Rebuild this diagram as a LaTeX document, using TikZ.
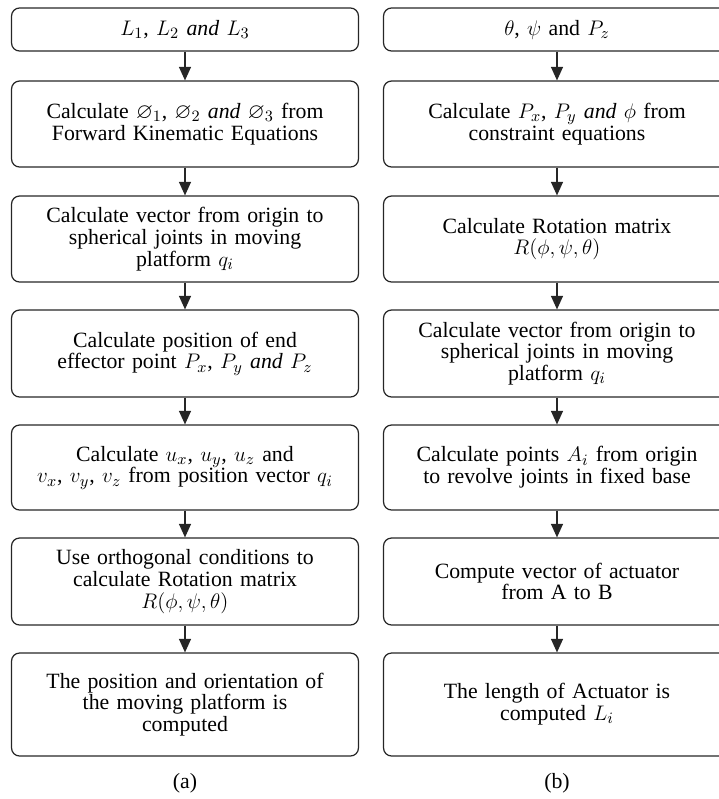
\documentclass[tikz,border=0pt]{standalone}
\usepackage{amsmath}
\usepackage{amssymb}
\usepackage{fontspec}
\setmainfont{Liberation Serif}
\usetikzlibrary{arrows.meta}
\tikzset{
  stepbox/.style={draw=black!85, line width=0.7pt, rounded corners=0.16cm,
    minimum width=6.94cm, text width=6.7cm, align=center, inner sep=0pt,
    font=\fontsize{12.4}{12.4}\selectfont},
  flow/.style={draw=black!85, line width=0.7pt,
    -{Triangle[width=0.24cm,length=0.27cm]}},
  caption/.style={font=\fontsize{12.4}{12.4}\selectfont}
}
\newcommand{\andit}{\textit{and}}

\begin{document}
\begin{tikzpicture}[x=0.02cm, y=-0.02cm]
			\clip (0,0) rectangle (719,799);
			\useasboundingbox (0,0) rectangle (719,799);
			%%%%%%%%%%%%%%%%%%%%%%%%%%%%%%%% (a)
			\node[stepbox, minimum height=0.86cm] (l1) at (185,29.5){$L_1$, $L_2$ \andit{} $L_3$};
			\node[stepbox, minimum height=1.72cm] (l2) at (185,124){Calculate $\varnothing_1$, $\varnothing_2$ \andit{} $\varnothing_3$ from\\ Forward Kinematic Equations};
			\node[stepbox, minimum height=1.72cm] (l3) at (185,239){Calculate vector from origin to\\ spherical joints in moving\\ platform $q_i$};
			\node[stepbox, minimum height=1.74cm] (l4) at (185,353.5){Calculate position of end\\ effector point $P_x$, $P_y$ \andit{} $P_z$};
			\node[stepbox, minimum height=1.70cm] (l5) at (185,467.5){Calculate $u_x$, $u_y$, $u_z$ and\\ $v_x$, $v_y$, $v_z$ from position vector $q_i$};
			\node[stepbox, minimum height=1.74cm] (l6) at (185,581.5){Use orthogonal conditions to\\ calculate Rotation matrix\\ $R(\phi, \psi, \theta)$};
			\node[stepbox, minimum height=2.06cm] (l7) at (185,704.5){The position and orientation of\\ the moving platform is\\ computed};
			\node[caption] (capa) at (185,783){(a)};
			%%%%%%%%%%%%%%%%%%%%%%%%%%%%%%%% (b)
			\node[stepbox, minimum height=0.86cm] (r1) at (557,29.5){$\theta$, $\psi$ and $P_z$};
			\node[stepbox, minimum height=1.72cm] (r2) at (557,124){Calculate $P_x$, $P_y$ \andit{} $\phi$ from\\ constraint equations};
			\node[stepbox, minimum height=1.72cm] (r3) at (557,239){Calculate Rotation matrix\\ $R(\phi, \psi, \theta)$};
			\node[stepbox, minimum height=1.74cm] (r4) at (557,353.5){Calculate vector from origin to\\ spherical joints in moving\\ platform $q_i$};
			\node[stepbox, minimum height=1.70cm] (r5) at (557,467.5){Calculate points $A_i$ from origin\\ to revolve joints in fixed base};
			\node[stepbox, minimum height=1.74cm] (r6) at (557,581.5){Compute vector of actuator\\ from A to B};
			\node[stepbox, minimum height=2.06cm] (r7) at (557,704.5){The length of Actuator is\\ computed $L_i$};
			\node[caption] (capb) at (557,783){(b)};
			%%%%%%%%%%%%%%%%%%%%%%%%%%%%%%%%
			\draw[flow] (l1)--(l2);
			\draw[flow] (l2)--(l3);
			\draw[flow] (l3)--(l4);
			\draw[flow] (l4)--(l5);
			\draw[flow] (l5)--(l6);
			\draw[flow] (l6)--(l7);
			\draw[flow] (r1)--(r2);
			\draw[flow] (r2)--(r3);
			\draw[flow] (r3)--(r4);
			\draw[flow] (r4)--(r5);
			\draw[flow] (r5)--(r6);
			\draw[flow] (r6)--(r7);
		\end{tikzpicture}
\end{document}
